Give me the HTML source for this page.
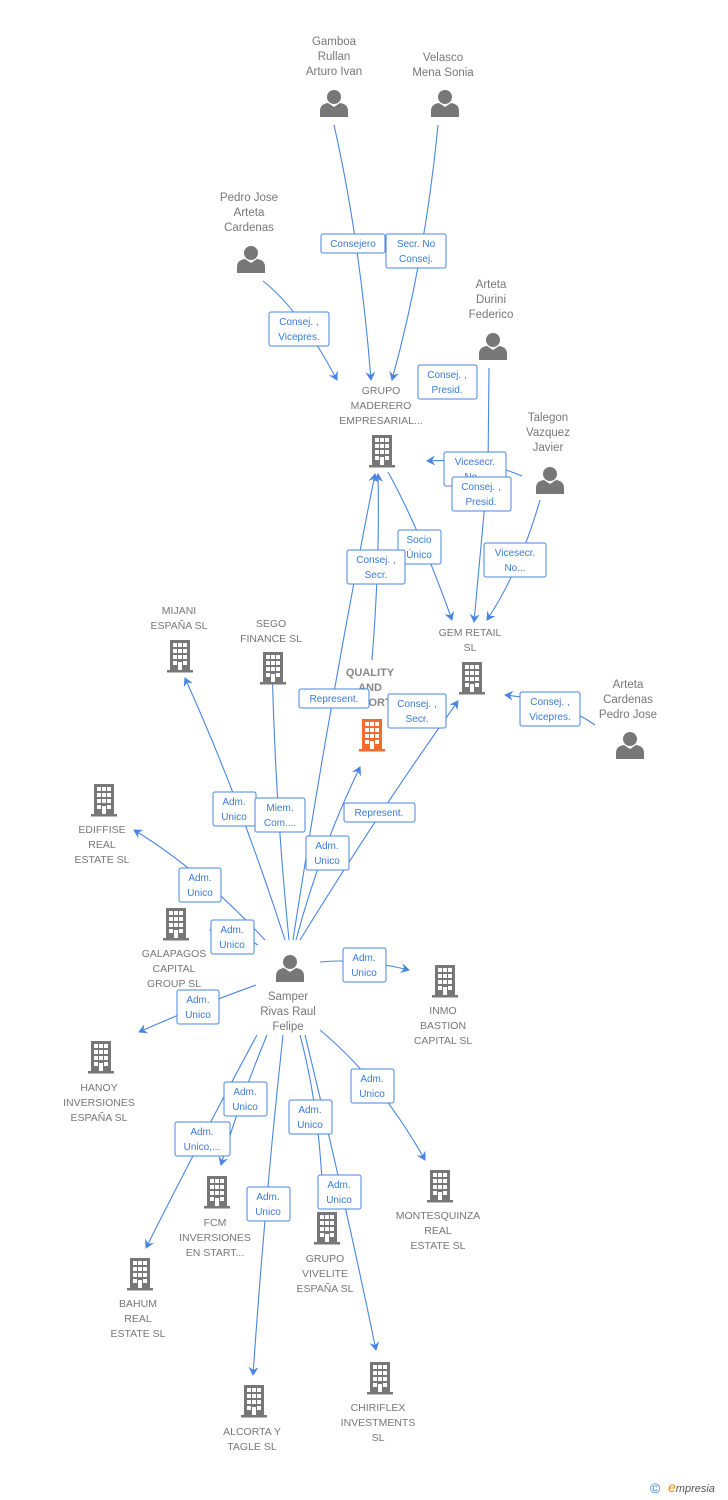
<!DOCTYPE html>
<html><head><meta charset="utf-8"><style>
html,body{margin:0;padding:0;background:#fff;}
svg{display:block;}
text{font-family:"Liberation Sans",sans-serif;}
.n{font-size:11.5px;fill:#777;text-anchor:middle;}
.b{font-size:10px;fill:#3a7bd5;text-anchor:middle;}
.e{fill:none;stroke:#4a86e0;stroke-width:1.1;marker-end:url(#a);}
.r{fill:#fff;stroke:#4a86e0;stroke-width:1;}
</style></head><body>
<svg width="728" height="1500" viewBox="0 0 728 1500" xmlns="http://www.w3.org/2000/svg">
<defs>
<marker id="a" markerWidth="10" markerHeight="10" refX="8" refY="5" orient="auto" markerUnits="userSpaceOnUse"><path d="M0,0 L9,5 L0,10 L3,5 Z" fill="#4a86e0"/></marker>
<g id="bld"><rect x="-10" y="-16" width="20" height="30" fill="#777"/><rect x="-13" y="14" width="26" height="2.5" fill="#777"/>
<g fill="#fff"><rect x="-7" y="-13" width="4" height="4"/><rect x="-2" y="-13" width="4" height="4"/><rect x="3" y="-13" width="4" height="4"/>
<rect x="-7" y="-7" width="4" height="4"/><rect x="-2" y="-7" width="4" height="4"/><rect x="3" y="-7" width="4" height="4"/>
<rect x="-7" y="-1" width="4" height="4"/><rect x="-2" y="-1" width="4" height="4"/><rect x="3" y="-1" width="4" height="4"/>
<rect x="-7" y="5" width="4" height="4"/><rect x="3" y="5" width="4" height="4"/><rect x="-2" y="6" width="4" height="8"/></g></g>
<g id="per" fill="#777"><circle cx="0" cy="-6" r="7"/><path d="M-14,14 L-14,8 Q-14,1 -6,0 L0,4 L6,0 Q14,1 14,8 L14,14 Z"/></g>
</defs>

<!-- edges -->
<path class="e" d="M334,125 Q360,240 371,380"/>
<path class="e" d="M438,125 Q425,260 392,380"/>
<path class="e" d="M263,281 Q300,310 337,380"/>
<path class="e" d="M489,368 L488,470 L474,622"/>
<path class="e" d="M522,476 Q480,458 427,461"/>
<path class="e" d="M540,500 Q520,570 487,620"/>
<path class="e" d="M388,472 Q420,530 452,620"/>
<path class="e" d="M372,660 Q380,560 378,474"/>
<path class="e" d="M293,940 Q330,700 375,474"/>
<path class="e" d="M595,725 Q560,700 505,695"/>
<path class="e" d="M300,940 Q380,810 458,701"/>
<path class="e" d="M296,940 Q320,850 360,767"/>
<path class="e" d="M285,940 Q240,800 185,678"/>
<path class="e" d="M289,940 Q275,800 272,663"/>
<path class="e" d="M265,940 Q200,870 134,830"/>
<path class="e" d="M258,945 Q230,930 210,930"/>
<path class="e" d="M320,962 Q360,958 409,970"/>
<path class="e" d="M256,985 Q200,1005 139,1032"/>
<path class="e" d="M267,1035 Q240,1100 221,1165"/>
<path class="e" d="M257,1035 Q195,1150 146,1248"/>
<path class="e" d="M283,1035 Q265,1200 253,1375"/>
<path class="e" d="M300,1035 Q320,1110 323,1203"/>
<path class="e" d="M305,1035 Q345,1200 376,1350"/>
<path class="e" d="M320,1030 Q380,1080 425,1160"/>

<!-- labels on edges -->
<rect class="r" x="321" y="234" width="64" height="19" rx="2"/><text class="b" x="353" y="247">Consejero</text>
<rect class="r" x="386" y="234" width="60" height="34" rx="2"/><text class="b" x="416" y="247">Secr.  No</text><text class="b" x="416" y="262">Consej.</text>
<rect class="r" x="269" y="312" width="60" height="34" rx="2"/><text class="b" x="299" y="325">Consej. ,</text><text class="b" x="299" y="340">Vicepres.</text>
<rect class="r" x="418" y="365" width="59" height="34" rx="2"/><text class="b" x="447" y="378">Consej. ,</text><text class="b" x="447" y="393">Presid.</text>
<rect class="r" x="444" y="452" width="62" height="34" rx="2"/><text class="b" x="475" y="465">Vicesecr.</text><text class="b" x="475" y="480">No...</text>
<rect class="r" x="452" y="477" width="59" height="34" rx="2"/><text class="b" x="481" y="490">Consej. ,</text><text class="b" x="481" y="505">Presid.</text>
<rect class="r" x="484" y="543" width="62" height="34" rx="2"/><text class="b" x="515" y="556">Vicesecr.</text><text class="b" x="515" y="571">No...</text>
<rect class="r" x="398" y="530" width="43" height="34" rx="2"/><text class="b" x="419" y="543">Socio</text><text class="b" x="419" y="558">Único</text>
<rect class="r" x="347" y="550" width="58" height="34" rx="2"/><text class="b" x="376" y="563">Consej. ,</text><text class="b" x="376" y="578">Secr.</text>

<!-- nodes -->
<text class="n"><tspan x="334" y="45">Gamboa</tspan><tspan x="334" y="60">Rullan</tspan><tspan x="334" y="75">Arturo Ivan</tspan></text>
<use href="#per" x="334" y="103"/>
<text class="n"><tspan x="443" y="61">Velasco</tspan><tspan x="443" y="76">Mena Sonia</tspan></text>
<use href="#per" x="445" y="103"/>
<text class="n"><tspan x="249" y="201">Pedro Jose</tspan><tspan x="249" y="216">Arteta</tspan><tspan x="249" y="231">Cardenas</tspan></text>
<use href="#per" x="251" y="259"/>
<text class="n"><tspan x="491" y="288">Arteta</tspan><tspan x="491" y="303">Durini</tspan><tspan x="491" y="318">Federico</tspan></text>
<use href="#per" x="493" y="346"/>
<text class="n"><tspan x="548" y="421">Talegon</tspan><tspan x="548" y="436">Vazquez</tspan><tspan x="548" y="451">Javier</tspan></text>
<use href="#per" x="550" y="480"/>
<text class="n" style="font-size:10.5px"><tspan x="381" y="394">GRUPO</tspan><tspan x="381" y="409">MADERERO</tspan><tspan x="381" y="424">EMPRESARIAL...</tspan></text>
<use href="#bld" x="382" y="451"/>
<text class="n" style="font-size:10.5px"><tspan x="470" y="636">GEM RETAIL</tspan><tspan x="470" y="651">SL</tspan></text>
<use href="#bld" x="472" y="678"/>
<text class="n"><tspan x="628" y="688">Arteta</tspan><tspan x="628" y="703">Cardenas</tspan><tspan x="628" y="718">Pedro Jose</tspan></text>
<use href="#per" x="630" y="745"/>
<text class="n" style="font-size:11px;font-weight:bold;fill:#888"><tspan x="370" y="676">QUALITY</tspan><tspan x="370" y="691">AND</tspan><tspan x="370" y="706">ESPORT.</tspan></text>
<use href="#bld" x="372" y="735" style="fill:#f26a2e"/>
<g transform="translate(372,735)"><rect x="-10" y="-16" width="20" height="30" fill="#f26a2e"/><rect x="-13" y="14" width="26" height="2.5" fill="#f26a2e"/><g fill="#fff"><rect x="-7" y="-13" width="4" height="4"/><rect x="-2" y="-13" width="4" height="4"/><rect x="3" y="-13" width="4" height="4"/><rect x="-7" y="-7" width="4" height="4"/><rect x="-2" y="-7" width="4" height="4"/><rect x="3" y="-7" width="4" height="4"/><rect x="-7" y="-1" width="4" height="4"/><rect x="-2" y="-1" width="4" height="4"/><rect x="3" y="-1" width="4" height="4"/><rect x="-7" y="5" width="4" height="4"/><rect x="3" y="5" width="4" height="4"/><rect x="-2" y="6" width="4" height="8"/></g></g>

<rect class="r" x="299" y="689" width="70" height="19" rx="2"/><text class="b" x="334" y="702">Represent.</text>
<rect class="r" x="388" y="694" width="58" height="34" rx="2"/><text class="b" x="417" y="707">Consej. ,</text><text class="b" x="417" y="722">Secr.</text>
<rect class="r" x="520" y="692" width="60" height="34" rx="2"/><text class="b" x="550" y="705">Consej. ,</text><text class="b" x="550" y="720">Vicepres.</text>

<text class="n" style="font-size:10.5px"><tspan x="179" y="614">MIJANI</tspan><tspan x="179" y="629">ESPAÑA  SL</tspan></text>
<use href="#bld" x="180" y="656"/>
<text class="n" style="font-size:10.5px"><tspan x="271" y="627">SEGO</tspan><tspan x="271" y="642">FINANCE  SL</tspan></text>
<use href="#bld" x="273" y="668"/>
<use href="#bld" x="104" y="800"/>
<text class="n" style="font-size:10.5px"><tspan x="102" y="833">EDIFFISE</tspan><tspan x="102" y="848">REAL</tspan><tspan x="102" y="863">ESTATE  SL</tspan></text>
<use href="#bld" x="176" y="924"/>
<text class="n" style="font-size:10.5px"><tspan x="174" y="957">GALAPAGOS</tspan><tspan x="174" y="972">CAPITAL</tspan><tspan x="174" y="987">GROUP  SL</tspan></text>
<use href="#per" x="290" y="968"/>
<text class="n"><tspan x="288" y="1000">Samper</tspan><tspan x="288" y="1015">Rivas Raul</tspan><tspan x="288" y="1030">Felipe</tspan></text>
<use href="#bld" x="445" y="981"/>
<text class="n" style="font-size:10.5px"><tspan x="443" y="1014">INMO</tspan><tspan x="443" y="1029">BASTION</tspan><tspan x="443" y="1044">CAPITAL  SL</tspan></text>
<use href="#bld" x="101" y="1057"/>
<text class="n" style="font-size:10.5px"><tspan x="99" y="1091">HANOY</tspan><tspan x="99" y="1106">INVERSIONES</tspan><tspan x="99" y="1121">ESPAÑA  SL</tspan></text>
<use href="#bld" x="217" y="1192"/>
<text class="n" style="font-size:10.5px"><tspan x="215" y="1226">FCM</tspan><tspan x="215" y="1241">INVERSIONES</tspan><tspan x="215" y="1256">EN START...</tspan></text>
<use href="#bld" x="440" y="1186"/>
<text class="n" style="font-size:10.5px"><tspan x="438" y="1219">MONTESQUINZA</tspan><tspan x="438" y="1234">REAL</tspan><tspan x="438" y="1249">ESTATE  SL</tspan></text>
<use href="#bld" x="140" y="1274"/>
<text class="n" style="font-size:10.5px"><tspan x="138" y="1307">BAHUM</tspan><tspan x="138" y="1322">REAL</tspan><tspan x="138" y="1337">ESTATE  SL</tspan></text>
<use href="#bld" x="327" y="1228"/>
<text class="n" style="font-size:10.5px"><tspan x="325" y="1262">GRUPO</tspan><tspan x="325" y="1277">VIVELITE</tspan><tspan x="325" y="1292">ESPAÑA  SL</tspan></text>
<use href="#bld" x="380" y="1378"/>
<text class="n" style="font-size:10.5px"><tspan x="378" y="1411">CHIRIFLEX</tspan><tspan x="378" y="1426">INVESTMENTS</tspan><tspan x="378" y="1441">SL</tspan></text>
<use href="#bld" x="254" y="1401"/>
<text class="n" style="font-size:10.5px"><tspan x="252" y="1435">ALCORTA Y</tspan><tspan x="252" y="1450">TAGLE  SL</tspan></text>

<!-- lower labels -->
<rect class="r" x="344" y="803" width="71" height="19" rx="2"/><text class="b" x="379" y="816">Represent.</text>
<rect class="r" x="213" y="792" width="43" height="34" rx="2"/><text class="b" x="234" y="805">Adm.</text><text class="b" x="234" y="820">Unico</text>
<rect class="r" x="255" y="798" width="50" height="34" rx="2"/><text class="b" x="280" y="811">Miem.</text><text class="b" x="280" y="826">Com....</text>
<rect class="r" x="306" y="836" width="43" height="34" rx="2"/><text class="b" x="327" y="849">Adm.</text><text class="b" x="327" y="864">Unico</text>
<rect class="r" x="179" y="868" width="42" height="34" rx="2"/><text class="b" x="200" y="881">Adm.</text><text class="b" x="200" y="896">Unico</text>
<rect class="r" x="211" y="920" width="43" height="34" rx="2"/><text class="b" x="232" y="933">Adm.</text><text class="b" x="232" y="948">Unico</text>
<rect class="r" x="343" y="948" width="43" height="34" rx="2"/><text class="b" x="364" y="961">Adm.</text><text class="b" x="364" y="976">Unico</text>
<rect class="r" x="177" y="990" width="42" height="34" rx="2"/><text class="b" x="198" y="1003">Adm.</text><text class="b" x="198" y="1018">Unico</text>
<rect class="r" x="224" y="1082" width="43" height="34" rx="2"/><text class="b" x="245" y="1095">Adm.</text><text class="b" x="245" y="1110">Unico</text>
<rect class="r" x="175" y="1122" width="55" height="34" rx="2"/><text class="b" x="202" y="1135">Adm.</text><text class="b" x="202" y="1150">Unico,...</text>
<rect class="r" x="247" y="1187" width="43" height="34" rx="2"/><text class="b" x="268" y="1200">Adm.</text><text class="b" x="268" y="1215">Unico</text>
<rect class="r" x="289" y="1100" width="43" height="34" rx="2"/><text class="b" x="310" y="1113">Adm.</text><text class="b" x="310" y="1128">Unico</text>
<rect class="r" x="318" y="1175" width="43" height="34" rx="2"/><text class="b" x="339" y="1188">Adm.</text><text class="b" x="339" y="1203">Unico</text>
<rect class="r" x="351" y="1069" width="43" height="34" rx="2"/><text class="b" x="372" y="1082">Adm.</text><text class="b" x="372" y="1097">Unico</text>

<text x="650" y="1493" style="font-size:14px;fill:#3a7bd5">©</text>
<text x="668" y="1492" style="font-size:11px;fill:#555;font-style:italic"><tspan fill="#f28a00" font-size="14">e</tspan>mpresia</text>
</svg>
</body></html>
